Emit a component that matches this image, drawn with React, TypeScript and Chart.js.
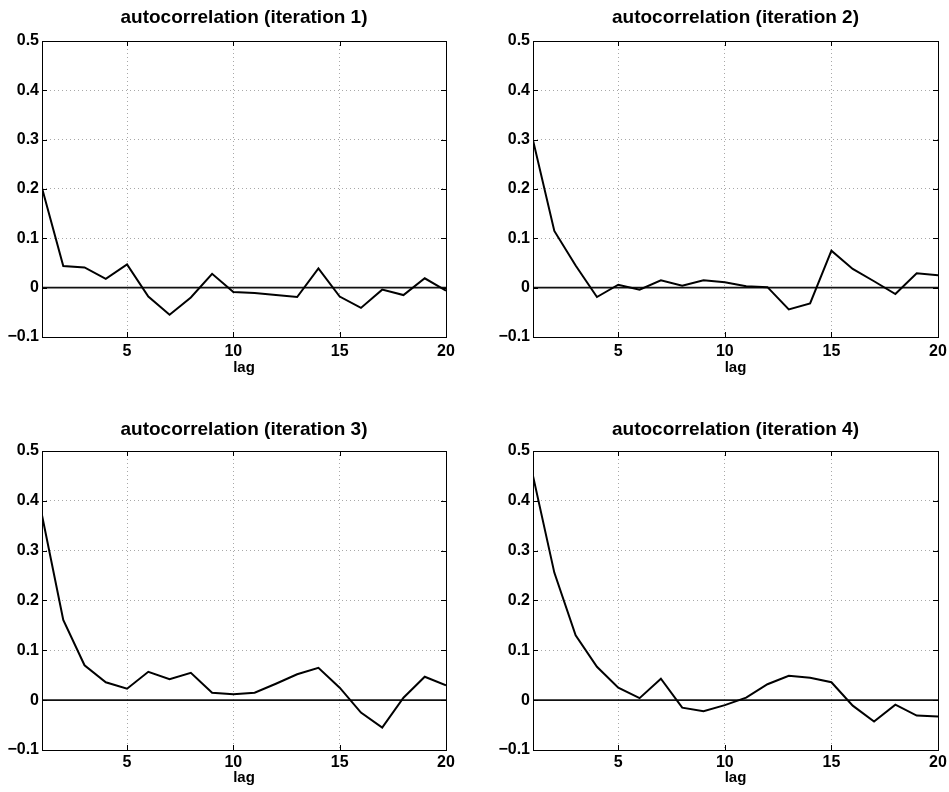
import React, { useEffect, useRef } from 'react';
import { Chart, registerables } from 'chart.js';

Chart.register(...registerables);

const lags = [1, 2, 3, 4, 5, 6, 7, 8, 9, 10, 11, 12, 13, 14, 15, 16, 17, 18, 19, 20];

const iteration1 = [0.202, 0.044, 0.041, 0.018, 0.047, -0.018, -0.055, -0.020, 0.028, -0.009, -0.011, -0.015, -0.019, 0.039, -0.018, -0.041, -0.004, -0.015, 0.019, -0.006];
const iteration2 = [0.299, 0.115, 0.045, -0.019, 0.006, -0.004, 0.015, 0.004, 0.015, 0.011, 0.003, 0.001, -0.044, -0.032, 0.075, 0.038, 0.013, -0.013, 0.029, 0.025];
const iteration3 = [0.371, 0.161, 0.070, 0.036, 0.023, 0.057, 0.042, 0.055, 0.015, 0.012, 0.015, 0.033, 0.052, 0.065, 0.025, -0.025, -0.055, 0.005, 0.047, 0.030];
const iteration4 = [0.450, 0.256, 0.130, 0.067, 0.025, 0.004, 0.043, -0.015, -0.022, -0.010, 0.005, 0.032, 0.049, 0.045, 0.036, -0.011, -0.043, -0.009, -0.031, -0.033];

const titles = [
  'autocorrelation (iteration 1)',
  'autocorrelation (iteration 2)',
  'autocorrelation (iteration 3)',
  'autocorrelation (iteration 4)',
];

const xTickValues = [5, 10, 15, 20];
const xTickLabels = ['5', '10', '15', '20'];
const yTickValues = [-0.1, 0, 0.1, 0.2, 0.3, 0.4, 0.5];
const yTickLabels = ['\u22120.1', '0', '0.1', '0.2', '0.3', '0.4', '0.5'];
const xAxisTitle = 'lag';
const zeroLevel = [0, 0];

const seriesList = [iteration1, iteration2, iteration3, iteration4];

// panel layout (plot-area boxes in page pixels)
const panels = [
  { pl: 42, pt: 41, pw: 404, ph: 296, titleGap: 23.5, tickGap: 15, lagGap: 31 },
  { pl: 533, pt: 41, pw: 405, ph: 296, titleGap: 23.5, tickGap: 15, lagGap: 31 },
  { pl: 42, pt: 451, pw: 404, ph: 299, titleGap: 21.5, tickGap: 13, lagGap: 28 },
  { pl: 533, pt: 451, pw: 405, ph: 299, titleGap: 21.5, tickGap: 13, lagGap: 28 },
];

const LEFT = 42;
const TOP = 41;
const RIGHT = 25;
const BOTTOM = 42;
const FONT = 'Liberation Sans, Arial, Helvetica, sans-serif';
const TITLE_SIZE = 19;
const TICK_SIZE = 16;
const LAG_SIZE = 15;

const boxPlugin = {
  id: 'matlabBox',
  afterDatasetsDraw(chart: any) {
    const { ctx, chartArea: a, scales } = chart;
    const len = 5;
    ctx.save();
    ctx.strokeStyle = '#000';
    ctx.lineWidth = 1;
    ctx.setLineDash([]);
    ctx.beginPath();
    for (const t of scales.x.ticks) {
      const px = Math.round(scales.x.getPixelForValue(t.value)) + 0.5;
      ctx.moveTo(px, a.bottom);
      ctx.lineTo(px, a.bottom - len);
      ctx.moveTo(px, a.top);
      ctx.lineTo(px, a.top + len);
    }
    for (const t of scales.y.ticks) {
      const py = Math.round(scales.y.getPixelForValue(t.value)) + 0.5;
      ctx.moveTo(a.left, py);
      ctx.lineTo(a.left + len, py);
      ctx.moveTo(a.right, py);
      ctx.lineTo(a.right - len, py);
    }
    ctx.stroke();
    ctx.strokeRect(Math.round(a.left) + 0.5, Math.round(a.top) + 0.5, Math.round(a.right - a.left), Math.round(a.bottom - a.top));
    ctx.restore();
  },
};

function Panel({ index }: { index: number }) {
  const ref = useRef<HTMLCanvasElement | null>(null);
  const p = panels[index];
  const width = p.pw + LEFT + RIGHT;
  const height = p.ph + TOP + BOTTOM;

  useEffect(() => {
    if (!ref.current) return;
    const values = seriesList[index];
    const titleLine = TITLE_SIZE * 1.2;
    const titlePadTop = TOP - p.titleGap - titleLine / 2;
    const chart = new Chart(ref.current, {
      type: 'line',
      data: {
        datasets: [
          {
            data: lags.map((x, i) => ({ x, y: values[i] })),
            borderColor: '#000',
            borderWidth: 2,
            pointRadius: 0,
            tension: 0,
            fill: false,
          },
          {
            data: [
              { x: lags[0], y: zeroLevel[0] },
              { x: lags[lags.length - 1], y: zeroLevel[1] },
            ],
            borderColor: '#111',
            borderWidth: 1.6,
            pointRadius: 0,
            tension: 0,
            fill: false,
          },
        ],
      },
      options: {
        animation: false,
        responsive: false,
        devicePixelRatio: 1,
        layout: { padding: { left: 0, top: 0, right: RIGHT, bottom: 0 } },
        plugins: {
          legend: { display: false },
          tooltip: { enabled: false },
          title: {
            display: true,
            text: titles[index],
            color: '#000',
            fullSize: false,
            font: { family: FONT, size: TITLE_SIZE, weight: 'bold' },
            padding: { top: titlePadTop, bottom: TOP - titleLine - titlePadTop },
          },
        },
        scales: {
          x: {
            type: 'linear',
            min: lags[0],
            max: lags[lags.length - 1],
            afterBuildTicks: (scale: any) => {
              scale.ticks = xTickValues.map((v) => ({ value: v }));
            },
            afterFit: (scale: any) => {
              scale.height = BOTTOM;
            },
            grid: { color: '#a8a8a8', lineWidth: 1, drawTicks: false },
            border: { display: false, dash: [1, 3] },
            ticks: {
              color: '#000',
              font: { family: FONT, size: TICK_SIZE, weight: 'bold' },
              padding: Math.max(0, p.tickGap - (TICK_SIZE * 1.2) / 2),
              maxRotation: 0,
              autoSkip: false,
              callback: (_v: any, i: number) => xTickLabels[i],
            },
            title: {
              display: true,
              text: xAxisTitle,
              color: '#000',
              font: { family: FONT, size: LAG_SIZE, weight: 'bold' },
              padding: { top: 0, bottom: Math.max(0, BOTTOM - (LAG_SIZE * 1.2) / 2 - p.lagGap) },
            },
          },
          y: {
            type: 'linear',
            min: yTickValues[0],
            max: yTickValues[yTickValues.length - 1],
            afterBuildTicks: (scale: any) => {
              scale.ticks = yTickValues.map((v) => ({ value: v }));
            },
            afterFit: (scale: any) => {
              scale.width = LEFT;
            },
            grid: { color: '#a8a8a8', lineWidth: 1, drawTicks: false },
            border: { display: false, dash: [1, 3] },
            ticks: {
              color: '#000',
              font: { family: FONT, size: TICK_SIZE, weight: 'bold' },
              padding: 3,
              autoSkip: false,
              callback: (_v: any, i: number) => yTickLabels[i],
            },
          },
        },
      },
      plugins: [boxPlugin],
    } as any);
    return () => chart.destroy();
  }, [index]);

  return (
    <canvas
      ref={ref}
      width={width}
      height={height}
      style={{ position: 'absolute', left: p.pl - LEFT, top: p.pt - TOP, width, height }}
    />
  );
}

export default function App() {
  return (
    <div style={{ position: 'absolute', left: 0, top: 0, width: 949, height: 792, background: '#fff', overflow: 'hidden' }}>
      {panels.map((_, i) => (
        <Panel key={i} index={i} />
      ))}
    </div>
  );
}
